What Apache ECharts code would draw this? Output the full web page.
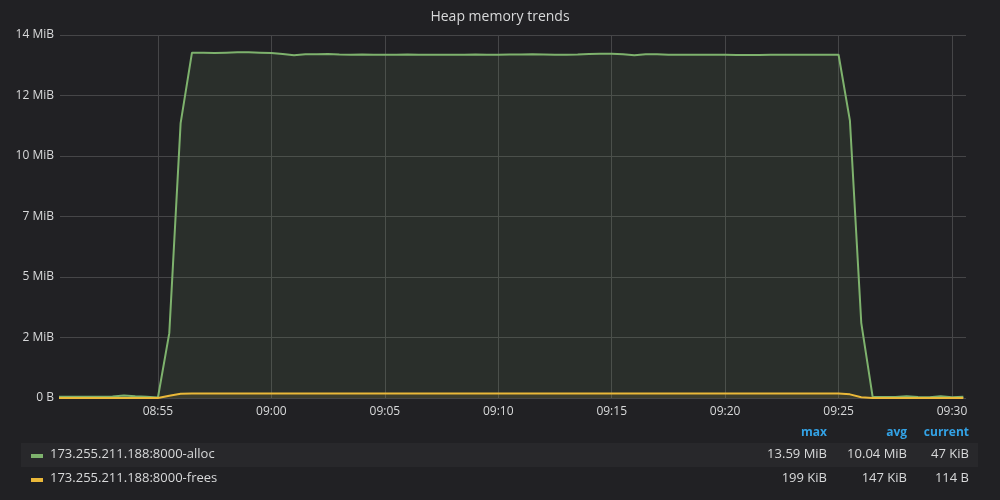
<!DOCTYPE html>
<html><head><meta charset="utf-8">
<script src="https://cdn.jsdelivr.net/npm/echarts@6/dist/echarts.min.js"></script>
<style>html,body{margin:0;padding:0;background:#212124;}#c{width:1000px;height:500px;}</style>
</head><body><div id="c"></div>
<script>
const chartTitle = 'Heap memory trends';
const seriesNames = ['173.255.211.188:8000-alloc', '173.255.211.188:8000-frees'];
const day = '2018-01-01T';
const startTime = '08:50:30';
const stepSeconds = 30;
const xMinTime = '08:50:41';
const xMaxTime = '09:30:37';
const xTickLabels = ['08:55', '09:00', '09:05', '09:10', '09:15', '09:20', '09:25', '09:30'];
// values in MiB, one every 30 s from 08:50:30 to 09:30:30
const allocMiB = [
  0.05, 0.05, 0.05, 0.05, 0.05, 0.06, 0.10, 0.07, 0.05, 0.02,
  2.5, 10.6, 13.32, 13.32, 13.31, 13.32, 13.33, 13.33, 13.32, 13.31,
  13.27, 13.22, 13.26, 13.26, 13.27, 13.25, 13.24, 13.25, 13.24, 13.24,
  13.24, 13.25, 13.24, 13.24, 13.24, 13.24, 13.24, 13.25, 13.24, 13.24,
  13.25, 13.25, 13.26, 13.25, 13.24, 13.24, 13.25, 13.27, 13.28, 13.28,
  13.26, 13.22, 13.26, 13.26, 13.24, 13.24, 13.24, 13.24, 13.24, 13.24,
  13.23, 13.23, 13.23, 13.24, 13.24, 13.24, 13.24, 13.24, 13.24, 13.24,
  10.7, 2.9, 0.05, 0.04, 0.04, 0.07, 0.04, 0.03, 0.07, 0.03, 0.05
];
const freesMiB = [
  0.003, 0.003, 0.003, 0.003, 0.003, 0.003, 0.003, 0.003, 0.003, 0.003,
  0.09, 0.165, 0.17, 0.17, 0.17, 0.17, 0.17, 0.17, 0.17, 0.17,
  0.17, 0.17, 0.17, 0.17, 0.17, 0.17, 0.17, 0.17, 0.17, 0.17,
  0.17, 0.17, 0.17, 0.17, 0.17, 0.17, 0.17, 0.17, 0.17, 0.17,
  0.17, 0.17, 0.17, 0.17, 0.17, 0.17, 0.17, 0.17, 0.17, 0.17,
  0.17, 0.17, 0.17, 0.17, 0.17, 0.17, 0.17, 0.17, 0.17, 0.17,
  0.17, 0.17, 0.17, 0.17, 0.17, 0.17, 0.17, 0.17, 0.17, 0.17,
  0.14, 0.03, 0.003, 0.003, 0.003, 0.003, 0.003, 0.003, 0.003, 0.003, 0.003
];
const yTickLabels = ['0 B', '2 MiB', '5 MiB', '7 MiB', '10 MiB', '12 MiB', '14 MiB'];
const yMax = 14;
const legendHeaders = ['max', 'avg', 'current'];
const legendMax = ['13.59 MiB', '199 KiB'];
const legendAvg = ['10.04 MiB', '147 KiB'];
const legendCurrent = ['47 KiB', '114 B'];
const seriesColors = ['#7eb26d', '#eab839'];

const ts = s => new Date(day + (s.length === 5 ? s + ':00' : s)).getTime();
const t0 = ts(startTime);
const toPairs = arr => arr.map((v, i) => [t0 + i * stepSeconds * 1000, v]);
const xTickValues = xTickLabels.map(ts);
const pad = n => (n < 10 ? '0' : '') + n;
const yInterval = yMax / (yTickLabels.length - 1);
const FONT = '"Open Sans", "Noto Sans", sans-serif';
const txt = '#d8d9da';

const graphics = [];
const colRight = [827, 907, 969];
const rowY = [454, 478];
legendHeaders.forEach((h, k) => graphics.push({
  type: 'text', style: { text: h, x: colRight[k], y: 433, align: 'right', verticalAlign: 'middle',
    fill: '#33a2e5', font: 'bold 12px ' + FONT }
}));
graphics.push({ type: 'rect', shape: { x: 21, y: 443, width: 957, height: 24 }, style: { fill: '#28282b' } });
seriesNames.forEach((name, r) => {
  graphics.push({ type: 'rect', shape: { x: 31, y: rowY[r], width: 12, height: 4 }, style: { fill: seriesColors[r] } });
  graphics.push({ type: 'text', style: { text: name, x: 50, y: rowY[r], align: 'left', verticalAlign: 'middle', fill: txt, font: '13px ' + FONT } });
  [legendMax[r], legendAvg[r], legendCurrent[r]].forEach((v, k) => graphics.push({
    type: 'text', style: { text: v, x: colRight[k], y: rowY[r], align: 'right', verticalAlign: 'middle', fill: txt, font: '13px ' + FONT }
  }));
});

const chart = echarts.init(document.getElementById('c'), null, { renderer: 'canvas' });
chart.setOption({
  backgroundColor: '#212124',
  animation: false,
  title: { text: chartTitle, left: 'center', top: 5, textStyle: { color: txt, fontSize: 14, fontWeight: 'normal', fontFamily: FONT } },
  grid: { left: 60, right: 34, top: 35, bottom: 102, containLabel: false },
  xAxis: {
    type: 'value',
    min: ts(xMinTime),
    max: ts(xMaxTime),
    axisLine: { show: false },
    axisTick: { show: false, customValues: xTickValues },
    axisLabel: { color: txt, fontSize: 12, fontFamily: FONT, margin: 8, customValues: xTickValues,
      formatter: v => { const d = new Date(v); return pad(d.getHours()) + ':' + pad(d.getMinutes()); } },
    splitLine: { show: true, lineStyle: { color: '#464648', width: 1 } }
  },
  yAxis: {
    type: 'value', min: 0, max: yMax, interval: yInterval,
    axisLine: { show: false }, axisTick: { show: false },
    axisLabel: { color: txt, fontSize: 12, fontFamily: FONT, margin: 6,
      formatter: v => yTickLabels[Math.round(v / yInterval)] },
    splitLine: { show: true, lineStyle: { color: '#464648', width: 1 } }
  },
  series: [
    { name: seriesNames[0], type: 'line', data: toPairs(allocMiB), symbol: 'none', color: seriesColors[0],
      lineStyle: { width: 2 }, areaStyle: { color: seriesColors[0], opacity: 0.1 } },
    { name: seriesNames[1], type: 'line', data: toPairs(freesMiB), symbol: 'none', color: seriesColors[1],
      lineStyle: { width: 2 }, areaStyle: { color: seriesColors[1], opacity: 0.1 } }
  ],
  graphic: graphics
});
</script></body></html>
